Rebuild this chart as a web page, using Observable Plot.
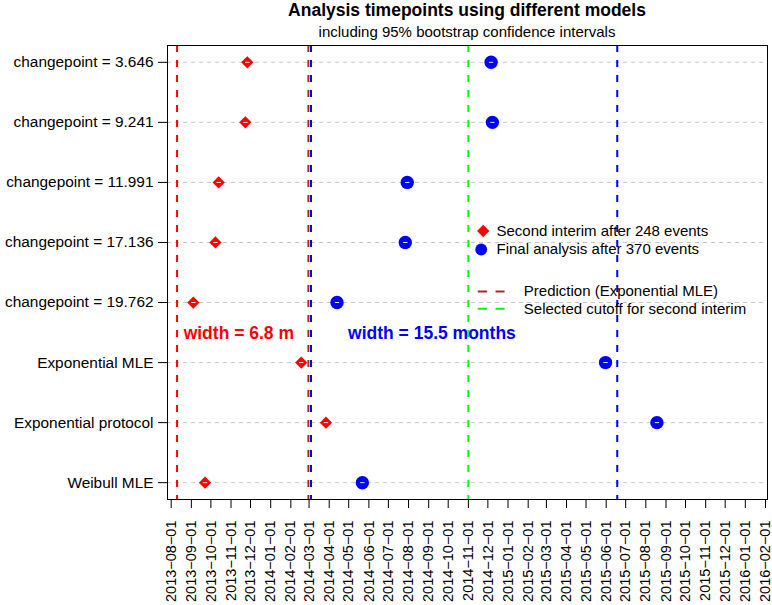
<!DOCTYPE html>
<html>
<head>
<meta charset="utf-8">
<script src="https://cdn.jsdelivr.net/npm/d3@7"></script>
<script src="https://cdn.jsdelivr.net/npm/@observablehq/plot@0.6"></script>
<style>
  html, body { margin: 0; padding: 0; background: #fff; }
  body { width: 772px; font-family: "Liberation Sans", Arial, Helvetica, sans-serif; }
  #head { padding-left: 167px; padding-right: 5px; text-align: center; color: #000; }
  #title { font-weight: bold; font-size: 17.5px; line-height: 21px; height: 21px; }
  #subtitle { font-size: 15px; line-height: 21px; height: 21px; }
  #chart svg { display: block; }
</style>
</head>
<body>
<div id="head">
  <div id="title">Analysis timepoints using different models</div>
  <div id="subtitle">including 95% bootstrap confidence intervals</div>
</div>
<div id="chart"></div>
<script>
// Models, listed top to bottom
const models = [
  "changepoint = 3.646",
  "changepoint = 9.241",
  "changepoint = 11.991",
  "changepoint = 17.136",
  "changepoint = 19.762",
  "Exponential MLE",
  "Exponential protocol",
  "Weibull MLE"
];
// Predicted date of the second interim (248 events)
const interimDates = [
  "2013-11-26", "2013-11-23", "2013-10-13", "2013-10-08",
  "2013-09-04", "2014-02-17", "2014-03-27", "2013-09-22"
];
// Predicted date of the final analysis (370 events)
const finalDates = [
  "2014-12-06", "2014-12-08", "2014-07-30", "2014-07-27",
  "2014-04-13", "2015-05-31", "2015-08-18", "2014-05-22"
];

// Reference lines
const refDates = ["2013-08-10", "2014-02-28", "2014-03-04", "2014-11-01", "2015-06-18"];
const refColors = ["#ff0000", "#a52a2a", "#0000ff", "#00ff00", "#0000ff"];

// Interval bounds for the width annotations: [start, end]
const interimWindow = ["2013-08-10", "2014-03-04"];
const finalWindow = ["2014-03-04", "2015-06-18"];
// Where each annotation sits (date, row position)
const annotDates = ["2013-11-13", "2014-09-06"];
const annotRow = 3.48;

const legendLabels = [
  "Second interim after 248 events",
  "Final analysis after 370 events",
  "Prediction (Exponential MLE)",
  "Selected cutoff for second interim"
];

const parse = d3.utcParse("%Y-%m-%d");
const n = models.length;
const rowPos = i => n - i;

const points = models.flatMap((m, i) => [
  {model: m, pos: rowPos(i), date: parse(interimDates[i]), kind: "interim"},
  {model: m, pos: rowPos(i), date: parse(finalDates[i]), kind: "final"}
]);
const refs = refDates.map((d, i) => ({date: parse(d), color: refColors[i]}));

const monthsBetween = ([a, b]) => (parse(b) - parse(a)) / 864e5 / (365.25 / 12);
const annots = [
  {date: parse(annotDates[0]), pos: annotRow, color: "#ff0000",
   text: `width = ${monthsBetween(interimWindow).toFixed(1)} m`},
  {date: parse(annotDates[1]), pos: annotRow, color: "#0000ff",
   text: `width = ${monthsBetween(finalWindow).toFixed(1)} months`}
];

const monthTicks = d3.utcMonth.range(parse("2013-08-01"), parse("2016-02-02"));
const fmtDate = d => d3.utcFormat("%Y-%m-%d")(d).replace(/-/g, "\u2212");

// Small white centre dash drawn on each point
const centreDash = {draw(ctx) { ctx.moveTo(-2.2, 0); ctx.lineTo(2.2, 0); }};
// Two-dash legend key
const dashKey = {draw(ctx) {
  ctx.moveTo(-13.4, 0); ctx.lineTo(-4, 0);
  ctx.moveTo(4.3, 0); ctx.lineTo(13.4, 0);
}};

const one = [0];
const legendText = (i, dx, dy) => Plot.text(one, {
  frameAnchor: "top-left", dx, dy, text: () => legendLabels[i],
  textAnchor: "start", lineAnchor: "middle", fill: "#000"
});

const chart = Plot.plot({
  width: 772,
  height: 563,
  marginLeft: 167,
  marginRight: 5,
  marginTop: 3,
  marginBottom: 106,
  style: {fontFamily: "'Liberation Sans', Arial, Helvetica, sans-serif", fontSize: "15px", color: "#000", background: "#fff"},
  x: {type: "utc", domain: [Date.UTC(2013, 6, 26, 7), Date.UTC(2016, 1, 4, 2)]},
  y: {type: "linear", domain: [0.72, n + 0.28]},
  marks: [
    // horizontal dashed guides at each model row
    Plot.ruleY(models.map((m, i) => rowPos(i)), {stroke: "#c8c8c8", strokeWidth: 1, strokeDasharray: "4,4"}),
    // reference lines
    Plot.ruleX(refs, {x: "date", stroke: "color", strokeWidth: 2, strokeDasharray: "7,8"}),
    // points
    Plot.dot(points.filter(d => d.kind === "interim"), {x: "date", y: "pos", symbol: "square", rotate: 45, r: 4.9, fill: "#ff0000", stroke: null}),
    Plot.dot(points.filter(d => d.kind === "final"), {x: "date", y: "pos", symbol: "circle", r: 6.7, fill: "#0000ff", stroke: null}),
    Plot.dot(points, {x: "date", y: "pos", symbol: centreDash, stroke: "#fff", strokeWidth: 0.9, fill: "none"}),
    // width annotations
    Plot.text(annots, {x: "date", y: "pos", text: "text", fill: "color", fontWeight: "bold", fontSize: 17.5}),
    // legend
    Plot.dot(one, {frameAnchor: "top-left", dx: 315.7, dy: 185.5, symbol: "square", rotate: 45, r: 4.9, fill: "#ff0000", stroke: null}),
    Plot.dot(one, {frameAnchor: "top-left", dx: 313.7, dy: 204, symbol: "circle", r: 5.9, fill: "#0000ff", stroke: null}),
    Plot.dot(one, {frameAnchor: "top-left", dx: 323.7, dy: 246, symbol: dashKey, stroke: refColors[1], strokeWidth: 2, fill: "none"}),
    Plot.dot(one, {frameAnchor: "top-left", dx: 323.7, dy: 263.3, symbol: dashKey, stroke: refColors[3], strokeWidth: 2, fill: "none"}),
    legendText(0, 329, 185.5),
    legendText(1, 329, 204),
    legendText(2, 356.3, 246),
    legendText(3, 356.3, 263.3),
    // axes
    Plot.axisY({ticks: models.map((m, i) => rowPos(i)), tickFormat: v => models[n - v], tickSize: 9, tickPadding: 5, label: null, stroke: "#000", fontSize: 15.4}),
    Plot.axisX({ticks: monthTicks, tickFormat: fmtDate, tickRotate: -90, tickSize: 9, tickPadding: 12, label: null, fontSize: 14.5, stroke: "#000"}),
    Plot.frame({stroke: "#000", strokeWidth: 1})
  ]
});
document.getElementById("chart").appendChild(chart);
</script>
</body>
</html>
